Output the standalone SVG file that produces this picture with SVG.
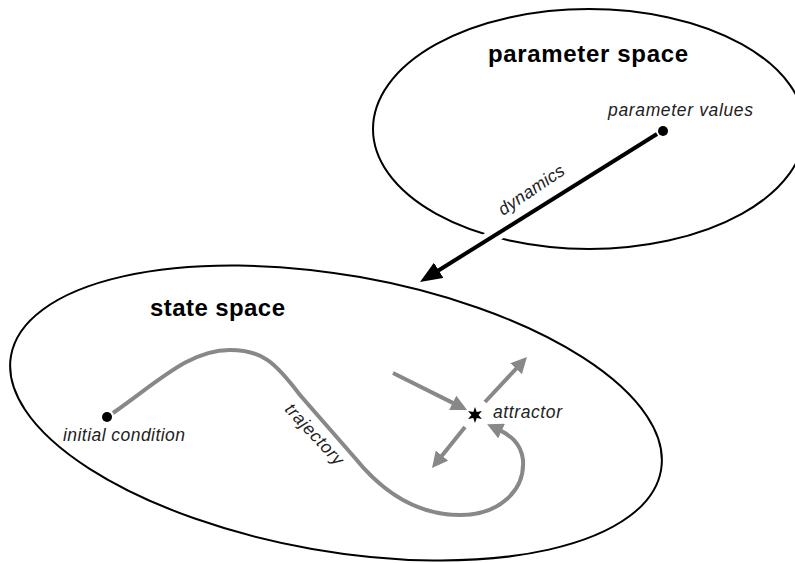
<svg xmlns="http://www.w3.org/2000/svg" width="795" height="563" viewBox="0 0 795 563">
<defs>
<style>
.space{fill:none;stroke:#000;stroke-width:2}
.title{font-family:"Liberation Sans",Arial,sans-serif;font-weight:bold;font-size:24px;fill:#000}
.lbl{font-family:"Liberation Sans",Arial,sans-serif;font-style:italic;font-size:17.5px;fill:#222}
.traj{fill:none;stroke:#888;stroke-width:4}
.dot{fill:#000}
</style>
<marker id="ga" markerUnits="userSpaceOnUse" viewBox="0 0 16 16" markerWidth="16" markerHeight="16" refX="4" refY="8" orient="auto">
<path d="M0,0 L16,8 L0,16 z" fill="#888"/>
</marker>
<marker id="ba" markerUnits="userSpaceOnUse" viewBox="0 0 22 18" markerWidth="22" markerHeight="18" refX="6" refY="9" orient="auto">
<path d="M0,0 L22,9 L0,18 z" fill="#000"/>
</marker>
</defs>
<rect width="795" height="563" fill="#fff"/>
<g id="parameter-space">
<ellipse class="space" cx="589" cy="129" rx="216" ry="120"/>
<text class="title" x="488" y="62" textLength="200" lengthAdjust="spacing">parameter space</text>
</g>
<g id="state-space">
<ellipse class="space" cx="336" cy="413" rx="330" ry="138" transform="rotate(10 336 413)"/>
<text class="title" x="150" y="316" textLength="135" lengthAdjust="spacing">state space</text>
</g>
<g id="parameter-values">
<circle class="dot" cx="663" cy="131" r="5"/>
<text class="lbl" x="608" y="116" textLength="145" lengthAdjust="spacing">parameter values</text>
</g>
<g id="initial-condition">
<circle class="dot" cx="107" cy="417" r="5"/>
<text class="lbl" x="63" y="441" textLength="122" lengthAdjust="spacing">initial condition</text>
</g>
<g id="attractor">
<polygon class="dot" points="475,407 476.75,411.97 481.93,411 478.5,415 481.93,419 476.75,418.03 475,423 473.25,418.03 468.07,419 471.5,415 468.07,411 473.25,411.97"/>
<text class="lbl" x="493" y="418" textLength="69" lengthAdjust="spacing">attractor</text>
</g>
<g id="connectors">
<line x1="657" y1="134" x2="433.6" y2="273.5" stroke="#fff" stroke-width="14"/>
<line x1="657" y1="134" x2="433.6" y2="273.5" stroke="#000" stroke-width="4" marker-end="url(#ba)"/>
<text class="lbl" x="503" y="216" textLength="76" lengthAdjust="spacing" transform="rotate(-34 503 216)">dynamics</text>
<path class="traj" d="M113,413 C160,380 190,350 230,350 C262,350 275,362 300,395 L355,458 C385,495 420,515 460,515 C500,515 525,490 523,460 C521,443 510,435 498,429.4" marker-end="url(#ga)"/>
<text class="lbl" x="284" y="410" textLength="77" lengthAdjust="spacing" transform="rotate(47 284 410)">trajectory</text>
<line class="traj" x1="393" y1="373" x2="456.3" y2="404.6" marker-end="url(#ga)"/>
<line class="traj" x1="485" y1="402" x2="518.8" y2="365.8" marker-end="url(#ga)"/>
<line class="traj" x1="465" y1="427" x2="439.5" y2="458.7" marker-end="url(#ga)"/>
</g>
</svg>
